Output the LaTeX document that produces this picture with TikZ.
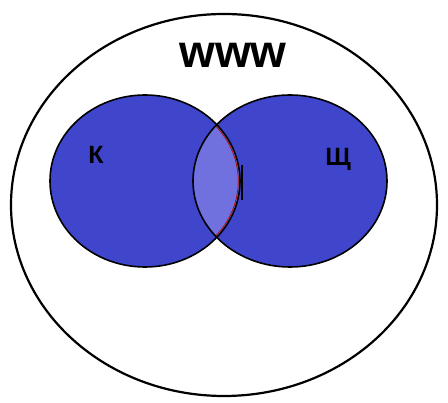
\documentclass[tikz,border=0pt]{standalone}
\usepackage{fontspec}
\setmainfont{Liberation Sans}
\definecolor{setblue}{RGB}{63,70,204}
\definecolor{lensblue}{RGB}{112,112,222}
\begin{document}
\begin{tikzpicture}[x=1pt,y=-1pt,
  outline/.style={draw=black,line width=1.6pt},
  lbl/.style={inner sep=0pt}]
\useasboundingbox (0,0) rectangle (448,403);
\fill[white] (0,0) rectangle (448,403);
% universe
\draw[line width=2.2pt] (224,205) ellipse [x radius=213, y radius=191];
% sets
\fill[setblue] (145,181) ellipse [x radius=95, y radius=86];
\fill[setblue] (290,181) ellipse [x radius=97, y radius=86];
\begin{scope}
  \clip (145,181) ellipse [x radius=95, y radius=86];
  \clip (290,181) ellipse [x radius=97, y radius=86];
  \fill[lensblue] (0,0) rectangle (448,403);
  \draw[red!75!black,line width=0.7pt] (145,181) ellipse [x radius=93.3, y radius=84.3];
\end{scope}
\draw[outline] (145,181) ellipse [x radius=95, y radius=86];
\draw[outline] (290,181) ellipse [x radius=97, y radius=86];
\draw[line width=2.2pt] (242,165) -- (242,200);
% labels
\node[lbl,font=\bfseries\fontsize{46}{46}\selectfont] (u) at (233,55) {www};
\node[lbl,font=\bfseries\fontsize{25}{25}\selectfont] (k) at (96,155) {К};
\node[lbl,font=\bfseries\fontsize{25}{25}\selectfont] (s) at (338,159) {Щ};
\end{tikzpicture}
\end{document}
